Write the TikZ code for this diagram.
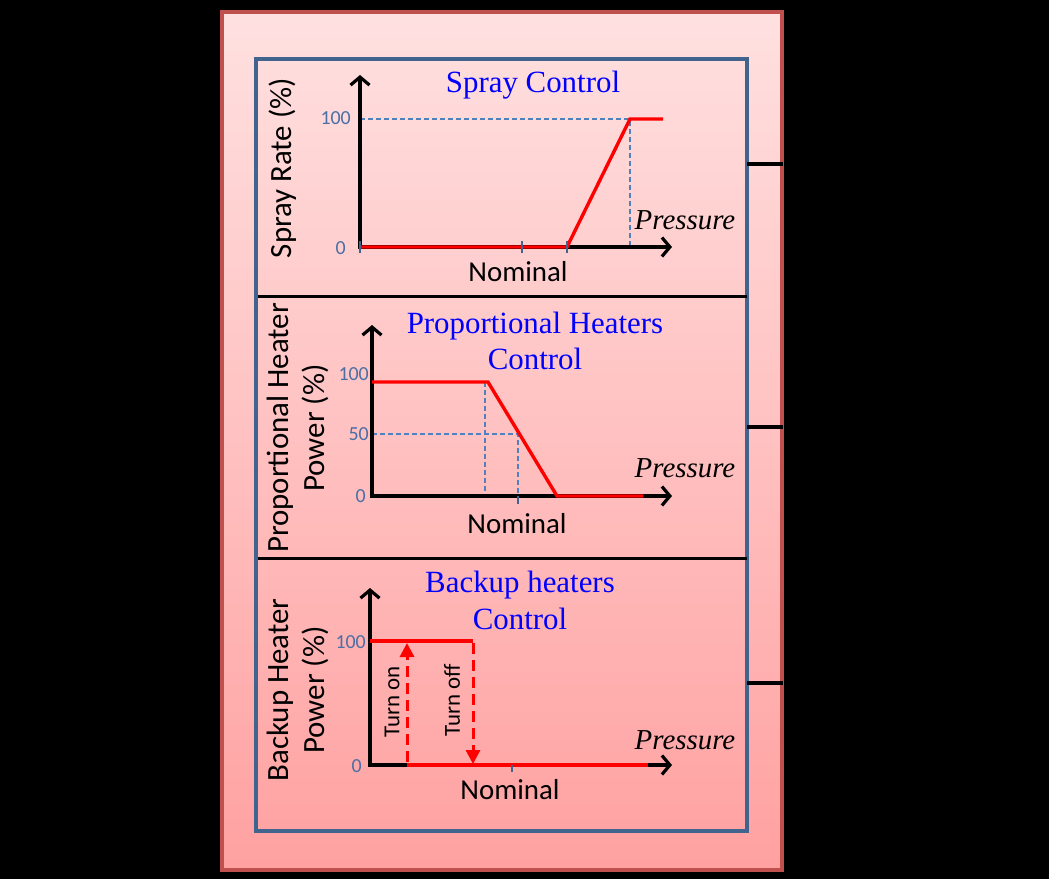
\documentclass[tikz,border=0pt]{standalone}
\usepackage{fontspec}
\setmainfont{Liberation Serif}
\newfontfamily\calib{Carlito}
\usetikzlibrary{arrows.meta}
\definecolor{boxred}{HTML}{C0504D}
\definecolor{boxblue}{HTML}{41648F}
\definecolor{ticktext}{HTML}{4A6FA5}
\definecolor{dashblue}{HTML}{4F81BD}
\tikzset{axis/.style={line width=3.2bp,-{Straight Barb[length=8bp,width=19bp,line width=3.2bp]}},
         curve/.style={line width=3.4bp,red},
         guide/.style={line width=1.6bp,dashblue,dash pattern=on 5bp off 3bp},
         tickmark/.style={line width=2.4bp,boxblue},
         ticklab/.style={font=\calib\fontsize{20}{20}\selectfont,text=ticktext,anchor=east,inner sep=0pt},
         title/.style={font=\fontsize{31}{37}\selectfont,text=blue,align=center},
         ylab/.style={font=\calib\fontsize{31}{36}\selectfont,rotate=90,align=center},
         nominal/.style={font=\calib\fontsize{29}{29}\selectfont},
         press/.style={font=\itshape\fontsize{29}{29}\selectfont},
         switch/.style={red,line width=3bp,dash pattern=on 11bp off 6bp,-{Triangle[length=14bp,width=14bp]}},
         switchlab/.style={font=\calib\fontsize{23}{23}\selectfont,rotate=90}}

\begin{document}
\begin{tikzpicture}[x=1bp,y=-1bp]
\useasboundingbox (0,0) rectangle (1049,879);
\fill[black] (0,0) rectangle (1049,879);
\shade[top color=red!12, bottom color=red!37] (222,12) rectangle (782,870);
\draw[boxred,line width=4.5bp] (222,12) rectangle (782,870);
\draw[boxblue,line width=3.2bp] (256,59) rectangle (747,831);
\draw[line width=3bp] (258,296) -- (747,296);
\draw[line width=3bp] (258,558) -- (747,558);
\foreach \y in {164,427,683}
  \draw[line width=3.2bp] (747,\y) -- (783,\y);

% spray
\coordinate (s0) at (360,247);
\coordinate (sa) at (567,247);
\coordinate (sb) at (630,119);
\coordinate (sc) at (663,119);
\draw[guide] (360,119) -- (sb) -- (630,247);
\draw[axis] (360,248.5) -- (360,75);
\draw[axis] (358.5,247) -- (672,247);
\draw[curve] (s0) -- (sa) -- (sb) -- (sc);
\foreach \x in {360,522,567}
  \draw[tickmark] (\x,241) -- (\x,253);
\node[ticklab] (s100) at (351,118) {100};
\node[ticklab] (szero) at (346,248) {0};
\node[title] (stitle) at (533,85) {Spray Control};
\node[ylab] (sylab) at (283,168) {Spray Rate (\%)};
\node[press] (spress) at (685,220) {Pressure};
\node[nominal] (snom) at (518,272) {Nominal};

% proportional
\coordinate (p0) at (372,382);
\coordinate (pa) at (488,382);
\coordinate (pb) at (557,496);
\coordinate (pc) at (643,496);
\draw[guide] (485,382) -- (485,496);
\draw[guide] (372,434) -- (518,434) -- (518,496);
\draw[axis] (372,497.5) -- (372,325);
\draw[axis] (370.5,496) -- (672,496);
\draw[curve] (p0) -- (pa) -- (pb) -- (pc);
\draw[tickmark] (518,496) -- (518,504);
\node[ticklab] (p100) at (369,374) {100};
\node[ticklab] (p50) at (369,434) {50};
\node[ticklab] (pzero) at (366,496) {0};
\node[title] (ptitle) at (535,341) {Proportional Heaters\\Control};
\node[ylab] (pylab) at (298,428) {Proportional Heater\\Power (\%)};
\node[press] (ppress) at (685,468) {Pressure};
\node[nominal] (pnom) at (517,524) {Nominal};

% backup
\coordinate (b0) at (370,641);
\coordinate (ba) at (473,641);
\coordinate (bb) at (407,765);
\coordinate (bc) at (648,765);
\draw[axis] (370,766.5) -- (370,588);
\draw[axis] (368.5,765) -- (672,765);
\draw[curve] (b0) -- (ba);
\draw[curve] (bb) -- (bc);
\draw[switch] (407,762) -- (407,643);
\draw[switch] (473,643) -- (473,764);
\draw[tickmark] (512,765) -- (512,772);
\node[ticklab] (b100) at (366,642) {100};
\node[ticklab] (bzero) at (362,766) {0};
\node[switchlab] (bon) at (392,702) {Turn on};
\node[switchlab] (boff) at (452,700) {Turn off};
\node[title] (btitle) at (520,600) {Backup heaters\\Control};
\node[ylab] (bylab) at (298,690) {Backup Heater\\Power (\%)};
\node[press] (bpress) at (685,740) {Pressure};
\node[nominal] (bnom) at (510,790) {Nominal};
\end{tikzpicture}
\end{document}
